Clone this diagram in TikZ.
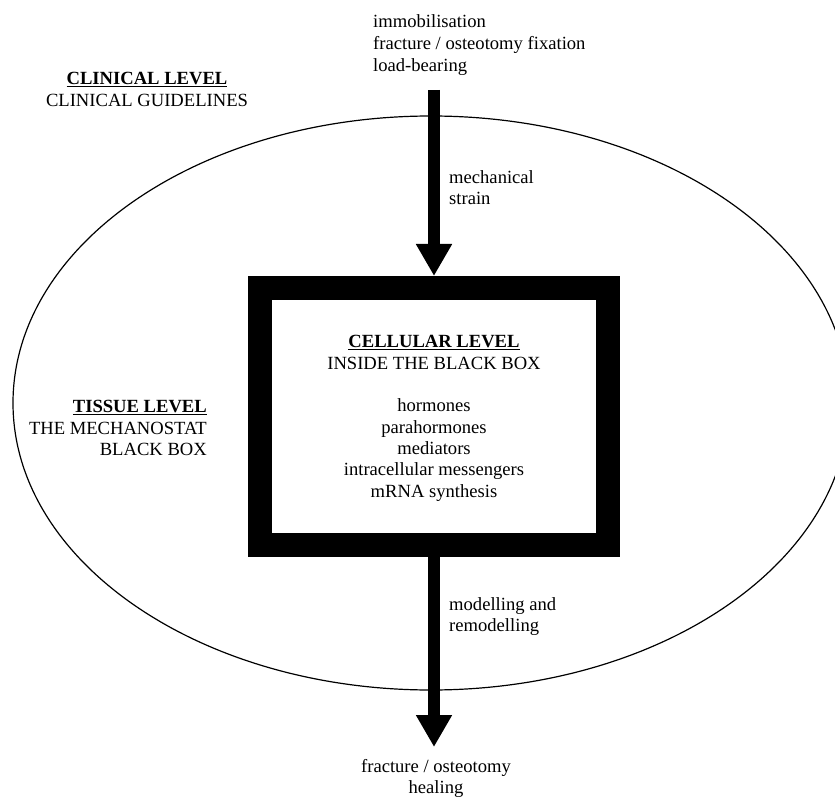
\documentclass[tikz,border=0pt]{standalone}
\usepackage{fontspec}
\setmainfont{Liberation Serif}
\usetikzlibrary{arrows.meta}

\tikzset{
    bigarrow/.style={line width=11.5pt, -{Triangle[width=34pt, length=32pt]}},
    lbl/.style={inner sep=0pt, font=\fontsize{18.6}{21.3}\selectfont},
}

\begin{document}
\begin{tikzpicture}[x=1pt, y=-1pt]
    \useasboundingbox (0,0) rectangle (835,799); % page size
    \draw[line width=1.2pt] (431,403) ellipse [x radius=418, y radius=287];
    \node[draw, line width=24pt, minimum width=348pt, minimum height=257pt] (blackbox) at (434,416.5) {};
    \coordinate (loadin) at (434,90);
    \coordinate (healout) at (434,747);
    \draw[bigarrow] (loadin) -- (blackbox.north);
    \draw[bigarrow] (blackbox.south) -- (healout);

    \node[lbl, anchor=north west, align=left, font=\fontsize{18.6}{22.2}\selectfont] (loads) at (373,14.3)
        {immobilisation\\fracture / osteotomy fixation\\load-bearing};
    \node[lbl, anchor=north, align=center] (clinical) at (147,72.4)
        {\underline{\textbf{CLINICAL LEVEL}}\\CLINICAL GUIDELINES};
    \node[lbl, anchor=north west, align=left] (strain) at (449,170.3)
        {mechanical\\strain};
    \node[lbl, anchor=north east, align=right] (tissue) at (207,400.4)
        {\underline{\textbf{TISSUE LEVEL}}\\THE MECHANOSTAT\\BLACK BOX};
    \node[lbl, anchor=north, align=center] (cellular) at (434,335.4)
        {\underline{\textbf{CELLULAR LEVEL}}\\INSIDE THE BLACK BOX\\[21.3pt]hormones\\parahormones\\mediators\\intracellular messengers\\mRNA synthesis};
    \node[lbl, anchor=north west, align=left] (remodel) at (449,597.3)
        {modelling and\\remodelling};
    \node[lbl, anchor=north, align=center] (healing) at (436,759.3)
        {fracture / osteotomy\\healing};
\end{tikzpicture}
\end{document}
